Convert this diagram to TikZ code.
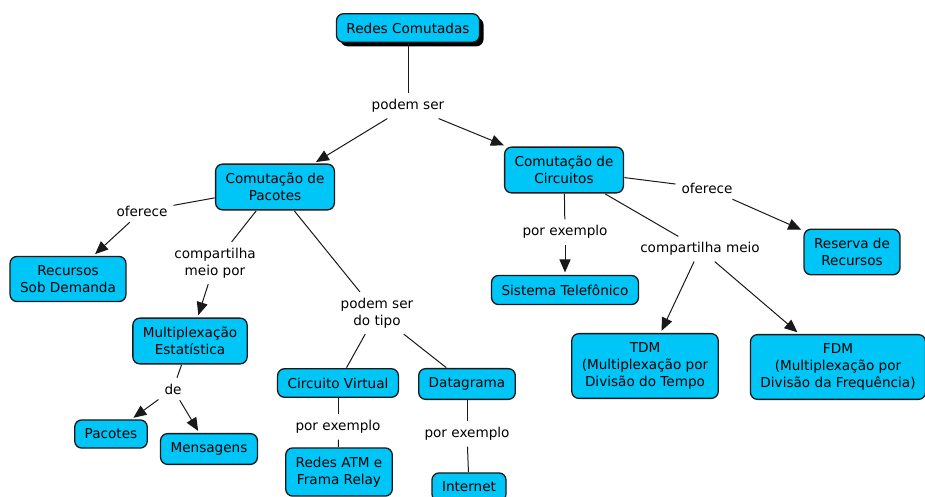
\documentclass[tikz,border=0pt]{standalone}
\usepackage{fontspec}
\setmainfont{DejaVu Sans}
\usetikzlibrary{arrows.meta,shadows}
\definecolor{cmapblue}{RGB}{0,198,248}
\tikzstyle{every node}=[font=\fontsize{13.6}{17}\selectfont,align=center]
\tikzstyle{concept}=[draw=black!90,line width=1.3pt,fill=cmapblue,rounded corners=7pt,inner xsep=10pt,inner ysep=9pt,outer sep=1pt]
\tikzstyle{phrase}=[inner sep=2pt,outer sep=4pt]
\tikzstyle{joins}=[draw=black!90,line width=1pt]
\tikzstyle{leads}=[joins,-{Triangle[length=13pt,width=11pt]},shorten >=2pt]

\begin{document}
\begin{tikzpicture}[x=1pt,y=-1pt]
\useasboundingbox (0,0) rectangle (925,497);
\node[concept,drop shadow={shadow xshift=4pt,shadow yshift=-4pt,fill=black,opacity=1}] (redes) at (408,28) {Redes Comutadas};
\node[phrase] (podem) at (408,106) {podem ser};
\node[concept] (pacotes) at (275,187) {Comutação de\\Pacotes};
\node[concept] (circuitos) at (564,170) {Comutação de\\Circuitos};
\node[phrase] (oferece1) at (142,211) {oferece};
\node[concept] (recursos) at (68,279) {Recursos\\Sob Demanda};
\node[phrase] (compart1) at (215,263) {compartilha\\meio por};
\node[phrase] (tipo) at (377,313) {podem ser\\do tipo};
\node[concept] (estat) at (190,341) {Multiplexação\\Estatística};
\node[phrase] (de) at (173,389) {de};
\node[concept] (pac) at (111,434) {Pacotes};
\node[concept] (msg) at (209,449) {Mensagens};
\node[concept] (virtual) at (338,383) {Circuito Virtual};
\node[concept] (datagrama) at (467,384) {Datagrama};
\node[phrase] (exemplo1) at (338,427) {por exemplo};
\node[concept] (atm) at (339,472) {Redes ATM e\\Frama Relay};
\node[phrase] (exemplo2) at (467,434) {por exemplo};
\node[concept] (internet) at (469,487) {Internet};
\node[phrase] (oferece2) at (707,188) {oferece};
\node[concept] (reserva) at (852,252) {Reserva de\\Recursos};
\node[phrase] (exemplo3) at (565,232) {por exemplo};
\node[concept] (telefone) at (565,290) {Sistema Telefônico};
\node[phrase] (compart2) at (700,249) {compartilha meio};
\node[concept] (tdm) at (645,366) {TDM\\(Multiplexação por\\Divisão do Tempo};
\node[concept] (fdm) at (838,367) {FDM\\(Multiplexação por\\Divisão da Frequência)};

\draw[joins] (redes) -- (podem);
\draw[leads] (podem) -- (pacotes);
\draw[leads] (podem) -- (circuitos);
\draw[joins] (pacotes) -- (oferece1);
\draw[leads] (oferece1) -- (recursos);
\draw[joins] (pacotes) -- (compart1);
\draw[leads] (compart1) -- (estat);
\draw[joins] (pacotes) -- (tipo);
\draw[joins] (tipo) -- (virtual);
\draw[joins] (tipo) -- (datagrama);
\draw[joins] (estat) -- (de);
\draw[leads] (de) -- (pac);
\draw[leads] (de) -- (msg);
\draw[joins] (virtual) -- (exemplo1);
\draw[joins] (exemplo1) -- (atm);
\draw[joins] (datagrama) -- (exemplo2);
\draw[joins] (exemplo2) -- (internet);
\draw[joins] (circuitos) -- (oferece2);
\draw[leads] (oferece2) -- (reserva);
\draw[joins] (circuitos) -- (exemplo3);
\draw[leads] (exemplo3) -- (telefone);
\draw[joins] (circuitos) -- (compart2);
\draw[leads] (compart2) -- (tdm);
\draw[leads] (compart2) -- (fdm);
\end{tikzpicture}
\end{document}
